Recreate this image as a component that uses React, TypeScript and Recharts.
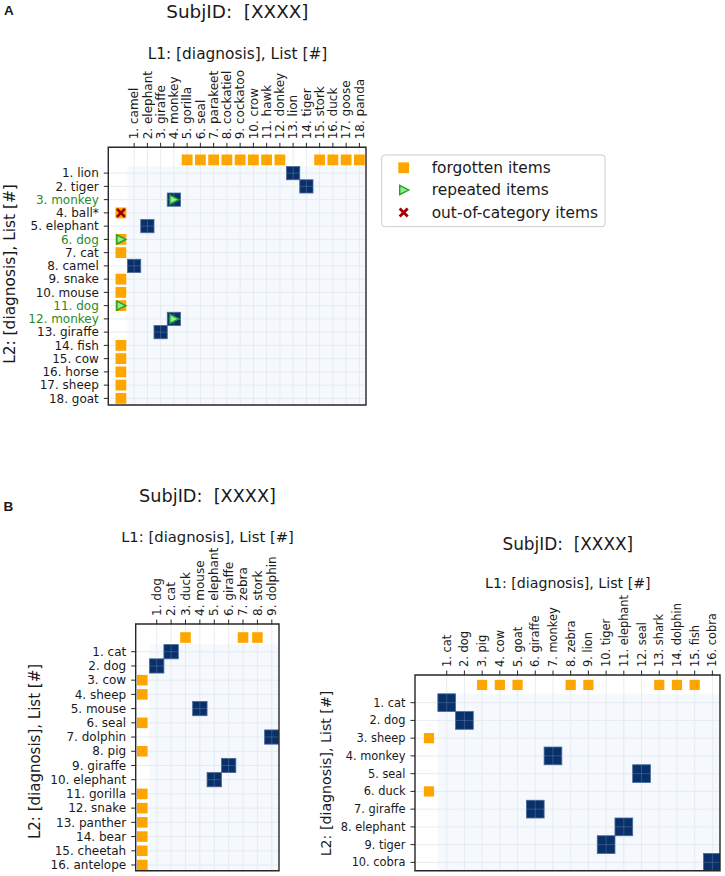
import React from 'react';
import { ScatterChart, Scatter, XAxis, YAxis, ReferenceArea, ReferenceLine } from 'recharts';

// ---- Panel A ----
const colsA = ['1. camel', '2. elephant', '3. giraffe', '4. monkey', '5. gorilla', '6. seal', '7. parakeet', '8. cockatiel', '9. cockatoo', '10. crow', '11. hawk', '12. donkey', '13. lion', '14. tiger', '15. stork', '16. duck', '17. goose', '18. panda'];
const rowsA = ['1. lion', '2. tiger', '3. monkey', '4. ball*', '5. elephant', '6. dog', '7. cat', '8. camel', '9. snake', '10. mouse', '11. dog', '12. monkey', '13. giraffe', '14. fish', '15. cow', '16. horse', '17. sheep', '18. goat'];
// [L2 row, L1 col]
const matchesA = [[1, 13], [2, 14], [3, 4], [5, 2], [8, 1], [12, 4], [13, 3]];
const forgottenColsA = [5, 6, 7, 8, 9, 10, 11, 12, 15, 16, 17, 18];
const forgottenRowsA = [4, 6, 7, 9, 10, 11, 14, 15, 16, 17, 18];
const repeatedA = [[3, 4], [6, 0], [11, 0], [12, 4]];
const outOfCategoryA = [[4, 0]];
const greenRowsA = [3, 6, 11, 12];

// ---- Panel B, left ----
const colsB1 = ['1. dog', '2. cat', '3. duck', '4. mouse', '5. elephant', '6. giraffe', '7. zebra', '8. stork', '9. dolphin'];
const rowsB1 = ['1. cat', '2. dog', '3. cow', '4. sheep', '5. mouse', '6. seal', '7. dolphin', '8. pig', '9. giraffe', '10. elephant', '11. gorilla', '12. snake', '13. panther', '14. bear', '15. cheetah', '16. antelope'];
const matchesB1 = [[1, 2], [2, 1], [5, 4], [7, 9], [9, 6], [10, 5]];
const forgottenColsB1 = [3, 7, 8];
const forgottenRowsB1 = [3, 4, 6, 8, 11, 12, 13, 14, 15, 16];

// ---- Panel B, right ----
const colsB2 = ['1. cat', '2. dog', '3. pig', '4. cow', '5. goat', '6. giraffe', '7. monkey', '8. zebra', '9. lion', '10. tiger', '11. elephant', '12. seal', '13. shark', '14. dolphin', '15. fish', '16. cobra'];
const rowsB2 = ['1. cat', '2. dog', '3. sheep', '4. monkey', '5. seal', '6. duck', '7. giraffe', '8. elephant', '9. tiger', '10. cobra'];
const matchesB2 = [[1, 1], [2, 2], [4, 7], [5, 12], [7, 6], [8, 11], [9, 10], [10, 16]];
const forgottenColsB2 = [3, 4, 5, 8, 9, 13, 14, 15];
const forgottenRowsB2 = [3, 6];

const FONT = 'DejaVu Sans';
const INK = '#1a1a1a';
const NAVY = '#08306b';
const ORANGE = '#ffa500';
const GREEN_TXT = '#2a8a2a';
const DARKRED = '#a00000';

const layoutA = { left: 0, top: 0, width: 380, height: 420, plotLeft: 108.3, plotTop: 147.3, plotRight: 366, plotBottom: 405, xDomain: [-0.95, 18.5], yDomain: [-0.95, 18.5], font: 12, marker: 10.8 };
const layoutB1 = { left: 0, top: 520, width: 290, height: 356, plotLeft: 135.7, plotTop: 624, plotRight: 279, plotBottom: 870.7, xDomain: [-0.46, 9.5], yDomain: [-0.95, 16.4], font: 12, marker: 10.6 };
const layoutB2 = { left: 300, top: 560, width: 425, height: 316, plotLeft: 415, plotTop: 675, plotRight: 720, plotBottom: 870.7, xDomain: [-0.79, 16.43], yDomain: [-0.56, 10.47], font: 11.4, marker: 10.2 };

const Triangle = (p: any) => (
  <polygon
    points={`${p.cx - 4},${p.cy - 4.6} ${p.cx + 5},${p.cy} ${p.cx - 4},${p.cy + 4.6}`}
    fill="#90ee90"
    stroke="#22a022"
    strokeWidth={1.4}
  />
);

const Cross = (p: any) => (
  <g stroke={DARKRED} strokeWidth={2.8} strokeLinecap="butt">
    <line x1={p.cx - 4} y1={p.cy - 4} x2={p.cx + 4} y2={p.cy + 4} />
    <line x1={p.cx - 4} y1={p.cy + 4} x2={p.cx + 4} y2={p.cy - 4} />
  </g>
);

function Matrix({ cols, rows, matches, forgottenCols, forgottenRows, repeated = [], outOfCat = [], greenRows = [], layout }: any) {
  const { left, top, width, height, plotLeft, plotTop, plotRight, plotBottom, xDomain, yDomain, font, marker } = layout;
  const cellW = (plotRight - plotLeft) / (xDomain[1] - xDomain[0]);
  const cellH = (plotBottom - plotTop) / (yDomain[1] - yDomain[0]);
  const xTicks = cols.map((_: string, i: number) => i + 1);
  const yTicks = rows.map((_: string, i: number) => i + 1);

  const matchData = matches.map(([r, c]: number[]) => ({ x: c, y: r }));
  const forgotData = [
    ...forgottenCols.map((c: number) => ({ x: c, y: 0 })),
    ...forgottenRows.map((r: number) => ({ x: 0, y: r })),
  ];
  const repData = repeated.map(([r, c]: number[]) => ({ x: c, y: r }));
  const oocData = outOfCat.map(([r, c]: number[]) => ({ x: c, y: r }));

  const blue = (p: any) => (
    <g>
      <rect x={p.cx - cellW / 2} y={p.cy - cellH / 2} width={cellW} height={cellH} fill={NAVY} stroke="#4a6896" strokeWidth={0.8} />
      <line x1={p.cx} x2={p.cx} y1={p.cy - cellH / 2} y2={p.cy + cellH / 2} stroke="#ffffff" strokeOpacity={0.22} strokeWidth={0.8} />
      <line x1={p.cx - cellW / 2} x2={p.cx + cellW / 2} y1={p.cy} y2={p.cy} stroke="#ffffff" strokeOpacity={0.22} strokeWidth={0.8} />
    </g>
  );
  const orange = (p: any) => (
    <rect x={p.cx - marker / 2} y={p.cy - marker / 2} width={marker} height={marker} fill={ORANGE} />
  );

  const XTick = (p: any) => (
    <text x={p.x} y={p.y} transform={`rotate(-90, ${p.x}, ${p.y})`} textAnchor="start" dy="0.35em" fontSize={font} fontFamily={FONT} fill={INK}>
      {cols[p.payload.value - 1]}
    </text>
  );
  const YTick = (p: any) => (
    <text x={p.x} y={p.y} textAnchor="end" dy="0.35em" fontSize={font} fontFamily={FONT} fill={greenRows.includes(p.payload.value) ? GREEN_TXT : INK}>
      {rows[p.payload.value - 1]}
    </text>
  );

  return (
    <div style={{ position: 'absolute', left, top }}>
      <ScatterChart
        width={width}
        height={height}
        margin={{ top: 0, left: 0, right: width - (plotRight - left), bottom: height - (plotBottom - top) }}
      >
        <XAxis
          type="number"
          dataKey="x"
          orientation="top"
          domain={xDomain}
          allowDataOverflow
          ticks={xTicks}
          interval={0}
          height={plotTop - top}
          axisLine={false}
          tickSize={4.5}
          tickMargin={3.5}
          stroke="#262626"
          tick={XTick}
        />
        <YAxis
          type="number"
          dataKey="y"
          reversed
          domain={yDomain}
          allowDataOverflow
          ticks={yTicks}
          interval={0}
          width={plotLeft - left}
          axisLine={false}
          tickSize={4.5}
          tickMargin={5}
          stroke="#262626"
          tick={YTick}
        />
        <ReferenceArea x1={0.5} x2={xDomain[1]} y1={0.5} y2={yDomain[1]} fill="#f5f9fe" fillOpacity={1} stroke="none" />
        {xTicks.map((t: number) => (
          <ReferenceLine key={'vx' + t} x={t} stroke="#e1e7ee" strokeWidth={0.8} />
        ))}
        {yTicks.map((t: number) => (
          <ReferenceLine key={'hy' + t} y={t} stroke="#e1e7ee" strokeWidth={0.8} />
        ))}
        <Scatter data={matchData} shape={blue} isAnimationActive={false} />
        <Scatter data={forgotData} shape={orange} isAnimationActive={false} />
        <Scatter data={repData} shape={Triangle} isAnimationActive={false} />
        <Scatter data={oocData} shape={Cross} isAnimationActive={false} />
        <ReferenceArea
          x1={xDomain[0]}
          x2={xDomain[1]}
          y1={yDomain[0]}
          y2={yDomain[1]}
          fill="none"
          stroke="#262626"
          strokeWidth={1.4}
          zIndex={2000}
        />
      </ScatterChart>
    </div>
  );
}

const Txt = ({ x, y, size, children, anchor = 'middle', rotate = false, weight = 'normal', family = FONT, color = INK }: any) => (
  <text
    x={x}
    y={y}
    fontSize={size}
    fontFamily={family}
    fontWeight={weight}
    fill={color}
    textAnchor={anchor}
    style={{ whiteSpace: 'pre' }}
    transform={rotate ? `rotate(-90, ${x}, ${y})` : undefined}
  >
    {children}
  </text>
);

export default function App() {
  return (
    <div style={{ position: 'absolute', left: 0, top: 0, width: 725, height: 876, background: '#fff', overflow: 'hidden' }}>
      <Matrix
        cols={colsA}
        rows={rowsA}
        matches={matchesA}
        forgottenCols={forgottenColsA}
        forgottenRows={forgottenRowsA}
        repeated={repeatedA}
        outOfCat={outOfCategoryA}
        greenRows={greenRowsA}
        layout={layoutA}
      />
      <Matrix cols={colsB1} rows={rowsB1} matches={matchesB1} forgottenCols={forgottenColsB1} forgottenRows={forgottenRowsB1} layout={layoutB1} />
      <Matrix cols={colsB2} rows={rowsB2} matches={matchesB2} forgottenCols={forgottenColsB2} forgottenRows={forgottenRowsB2} layout={layoutB2} />

      <svg width={725} height={876} style={{ position: 'absolute', left: 0, top: 0, pointerEvents: 'none' }}>
        {/* panel letters */}
        <Txt x={4} y={15} size={13.5} anchor="start" weight="bold" family="Liberation Sans">A</Txt>
        <Txt x={3.5} y={510.5} size={13.5} anchor="start" weight="bold" family="Liberation Sans">B</Txt>

        {/* panel A */}
        <Txt x={237.4} y={18.3} size={18.4}>{'SubjID:  [XXXX]'}</Txt>
        <Txt x={237.5} y={59.3} size={15.4}>L1: [diagnosis], List [#]</Txt>
        <Txt x={15} y={274} size={15.4} rotate>L2: [diagnosis], List [#]</Txt>

        {/* panel B left */}
        <Txt x={207.5} y={501.7} size={17.7}>{'SubjID:  [XXXX]'}</Txt>
        <Txt x={207.5} y={541.7} size={14.8}>L1: [diagnosis], List [#]</Txt>
        <Txt x={40} y={751.5} size={15} rotate>L2: [diagnosis], List [#]</Txt>

        {/* panel B right */}
        <Txt x={567.8} y={550} size={16.9}>{'SubjID:  [XXXX]'}</Txt>
        <Txt x={567.8} y={588.3} size={14.2}>L1: [diagnosis], List [#]</Txt>
        <Txt x={331} y={773.5} size={14.2} rotate>L2: [diagnosis], List [#]</Txt>

        {/* legend */}
        <rect x={381.7} y={155} width={223.3} height={71.7} rx={3} fill="#fff" stroke="#cccccc" strokeWidth={1} />
        <rect x={398.3} y={162.4} width={10.8} height={10.8} fill={ORANGE} />
        <Triangle cx={403.7} cy={190} />
        <Cross cx={403.7} cy={212.5} />
        <Txt x={431.7} y={172.5} size={15.4} anchor="start">forgotten items</Txt>
        <Txt x={431.7} y={195.3} size={15.4} anchor="start">repeated items</Txt>
        <Txt x={431.7} y={218} size={15.4} anchor="start">out-of-category items</Txt>
      </svg>
    </div>
  );
}
